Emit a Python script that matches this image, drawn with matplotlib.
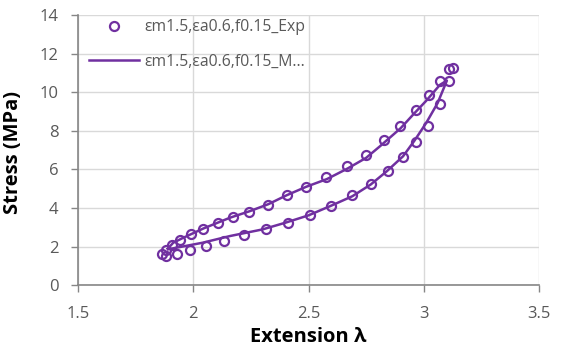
import numpy as np
import matplotlib
matplotlib.use('Agg')
import matplotlib.pyplot as plt

plt.rcParams['font.family'] = ['Open Sans', 'DejaVu Sans']

# experimental points (loading then unloading)
exp_x = [1.863, 1.88, 1.928, 1.986, 2.055, 2.133, 2.222, 2.314, 2.41, 2.507,
         2.598, 2.69, 2.77, 2.846, 2.909, 2.965, 3.017, 3.068, 3.11, 3.11, 3.126,
         3.07, 3.023, 2.965, 2.897, 2.829, 2.748, 2.666, 2.576, 2.489, 2.407,
         2.323, 2.242, 2.171, 2.106, 2.044, 1.99, 1.943, 1.906, 1.88]
exp_y = [1.60, 1.51, 1.64, 1.81, 2.03, 2.27, 2.60, 2.89, 3.24, 3.63,
         4.12, 4.65, 5.25, 5.94, 6.65, 7.42, 8.26, 9.38, 10.6, 11.19, 11.24,
         10.6, 9.87, 9.09, 8.26, 7.54, 6.77, 6.16, 5.59, 5.08, 4.65,
         4.18, 3.81, 3.55, 3.24, 2.93, 2.67, 2.34, 2.08, 1.82]

# model curve
mod_x = [1.89, 2.04, 2.16, 2.3, 2.4, 2.5, 2.6, 2.69, 2.77, 2.84, 2.91, 2.96,
         3.01, 3.06, 3.10,
         3.07, 3.01, 2.96, 2.9, 2.81, 2.75, 2.67, 2.58, 2.49, 2.405, 2.326,
         2.246, 2.16, 2.044, 1.957, 1.913, 1.89]
mod_y = [1.86, 2.2, 2.55, 2.89, 3.24, 3.62, 4.13, 4.61, 5.22, 5.91, 6.68, 7.5,
         8.4, 9.44, 10.6,
         10.38, 9.55, 8.92, 8.14, 7.2, 6.6, 6.05, 5.5, 5.1, 4.66, 4.2,
         3.84, 3.5, 2.94, 2.46, 2.2, 1.9]

label_exp = '\u03b5m1.5,\u03b5a0.6,f0.15_Exp'
label_mod = '\u03b5m1.5,\u03b5a0.6,f0.15_M...'

purple = '#7030A0'
grey = '#595959'

fig = plt.figure(figsize=(5.61, 3.47), dpi=100)
ax = fig.add_axes([0.139, 0.178, 0.822, 0.779])

ax.plot(exp_x, exp_y, 'o', mfc='none', mec=purple, mew=1.6, ms=6.5, label=label_exp)
ax.plot(mod_x, mod_y, '-', color=purple, lw=1.8, label=label_mod)

ax.set_xlim(1.5, 3.5)
ax.set_ylim(0, 14)
ax.set_xticks([1.5, 2, 2.5, 3, 3.5])
ax.set_xticklabels(['1.5', '2', '2.5', '3', '3.5'])
ax.set_yticks(range(0, 15, 2))
ax.grid(True, color='#D9D9D9', lw=1)
ax.set_axisbelow(True)

for s in ['top', 'right']:
    ax.spines[s].set_visible(False)
ax.spines['left'].set_color('#868686')
ax.spines['bottom'].set_color('#868686')
ax.spines['left'].set_linewidth(1.2)
ax.spines['bottom'].set_linewidth(1.2)
ax.tick_params(colors='#868686', labelcolor=grey, labelsize=12, length=5, width=1)
ax.tick_params(axis='x', pad=10)
ax.tick_params(axis='y', pad=9)

ax.set_ylabel('Stress (MPa)', fontsize=14.5, fontweight='bold')
ax.set_xlabel('Extension \u03bb', fontsize=14.5, fontweight='bold')
ax.yaxis.set_label_coords(-0.12, 0.49)
ax.xaxis.set_label_coords(0.5, -0.155)

leg = ax.legend(loc='upper left', frameon=False, fontsize=11.3, labelcolor=grey,
                bbox_to_anchor=(0.0, 1.025), handlelength=3.2, handletextpad=0.35,
                borderaxespad=0.3, labelspacing=1.2)

fig.savefig('out.png', dpi=100)
